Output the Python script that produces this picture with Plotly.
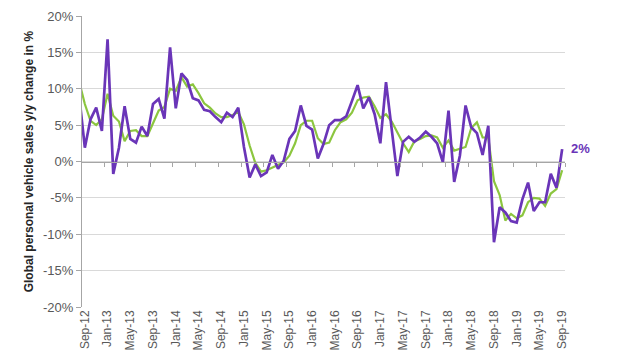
import plotly.graph_objects as go
import pandas as pd

# Month labels (first value, Aug-12, sits just left of the visible axis)
months = list(pd.date_range("2012-08-01", "2019-09-01", freq="MS").strftime("%b-%y"))

# Monthly y/y change in % (purple)
monthly = [
    9.1, 1.9, 5.8, 7.4, 4.2,
    16.8, -1.7, 1.9, 7.6, 3.1, 2.6, 4.8, 3.5, 7.9, 8.6, 5.9, 15.7,
    7.3, 12.1, 11.2, 8.7, 8.4, 7.1, 6.9, 6.1, 5.4, 6.7, 6.1, 7.4,
    2.0, -2.2, -0.4, -2.0, -1.5, 0.9, -1.0, 0.1, 3.1, 4.2, 7.7, 4.9,
    4.4, 0.4, 2.4, 5.0, 5.7, 5.7, 6.2, 8.3, 10.5, 7.3, 8.8, 6.5,
    2.5, 10.9, 4.5, -2.0, 2.7, 3.4, 2.7, 3.3, 4.1, 3.4, 2.5, -0.1,
    7.0, -2.8, 0.8, 7.7, 4.7, 3.9, 0.9, 4.9, -11.1, -6.3, -7.0, -8.2,
    -8.4, -5.2, -2.9, -6.8, -5.6, -5.6, -1.7, -3.6, 1.7,
]

# Smoothed series (green)
smoothed = [
    11.0, 7.9, 5.6, 5.0, 5.8,
    9.3, 6.3, 5.5, 2.8, 4.2, 4.3, 3.5, 3.5, 5.2, 7.0, 7.5, 10.0,
    9.7, 11.6, 10.3, 10.6, 9.4, 8.0, 7.4, 6.6, 6.1, 6.1, 6.4, 6.8,
    5.1, 2.2, -0.2, -1.4, -1.2, -0.8, -0.5, -0.1, 0.8, 2.5, 5.0, 5.6,
    5.6, 3.2, 2.4, 2.6, 4.3, 5.4, 5.8, 6.7, 8.4, 8.8, 8.9, 7.6,
    6.0, 6.5, 5.5, 4.0, 2.5, 1.3, 2.8, 3.1, 3.5, 3.6, 3.3, 1.9,
    2.9, 1.5, 1.8, 2.0, 4.6, 5.4, 3.3, 3.3, -2.7, -4.6, -8.1, -7.2,
    -7.8, -7.4, -5.6, -5.0, -5.1, -6.1, -4.4, -3.8, -1.2,
]

x = list(range(-1, len(months) - 1))  # Sep-12 -> 0
label_every = 4
tick_idx = [i for i in x if i >= 0 and i % label_every == 0]
tick_txt = [months[i + 1] for i in tick_idx]
y_ticks = [-20, -15, -10, -5, 0, 5, 10, 15, 20]

PURPLE = "#6A35B8"
GREEN = "#8CC63F"
GREY_TXT = "#595959"

fig = go.Figure()
fig.add_trace(go.Scatter(x=x, y=smoothed, mode="lines",
                         line=dict(color=GREEN, width=2.2), hoverinfo="skip"))
fig.add_trace(go.Scatter(x=x, y=monthly, mode="lines",
                         line=dict(color=PURPLE, width=2.7), hoverinfo="skip"))
# invisible trace to activate the zero-crossing category axis
fig.add_trace(go.Scatter(x=[x[1]], y=[0], xaxis="x2", mode="markers",
                         marker=dict(opacity=0), hoverinfo="skip"))

fig.add_annotation(x=x[-1], y=monthly[-1], text="<b>2%</b>", showarrow=False,
                   xanchor="left", yanchor="middle", xshift=7, yshift=1,
                   font=dict(color=PURPLE, size=13, family="Liberation Sans"))
fig.add_annotation(xref="paper", yref="paper", x=-0.11, y=0.5,
                   text="<b>Global personal vehicle sales y/y change in %</b>",
                   textangle=-90, showarrow=False, xanchor="center", yanchor="middle",
                   font=dict(color="#262626", size=12, family="Liberation Sans"))

rng = [-0.5, len(months) - 1.5]
# page body has an 8px default margin, so the figure is sized/offset to compensate
fig.update_layout(
    width=632, height=352,
    margin=dict(l=74, r=75, t=8, b=53),
    paper_bgcolor="white", plot_bgcolor="white",
    showlegend=False,
    font=dict(family="Liberation Sans", color=GREY_TXT),
    xaxis=dict(range=rng, tickmode="array", tickvals=tick_idx, ticktext=tick_txt,
               tickangle=-90, tickfont=dict(size=12, color=GREY_TXT), automargin=False,
               showgrid=False, zeroline=False, showline=False, ticks=""),
    xaxis2=dict(overlaying="x", anchor="free", position=0.5, range=rng,
                tickmode="array", tickvals=[i - 0.5 for i in tick_idx[1:]] + [x[-1] + 0.5],
                showticklabels=False, ticks="outside", ticklen=4, tickcolor="#A6A6A6",
                showline=True, linecolor="#A6A6A6", linewidth=1, automargin=False,
                showgrid=False, zeroline=False),
    yaxis=dict(range=[-20, 20], tickmode="array", tickvals=y_ticks,
               ticktext=[f"{v}%" for v in y_ticks], automargin=False,
               tickfont=dict(size=13, color=GREY_TXT),
               showgrid=True, gridcolor="#D9D9D9", gridwidth=1,
               zeroline=False, showline=True, linecolor="#A6A6A6",
               ticks="outside", ticklen=5, tickcolor="#A6A6A6"),
)

fig.write_html("out.html")
